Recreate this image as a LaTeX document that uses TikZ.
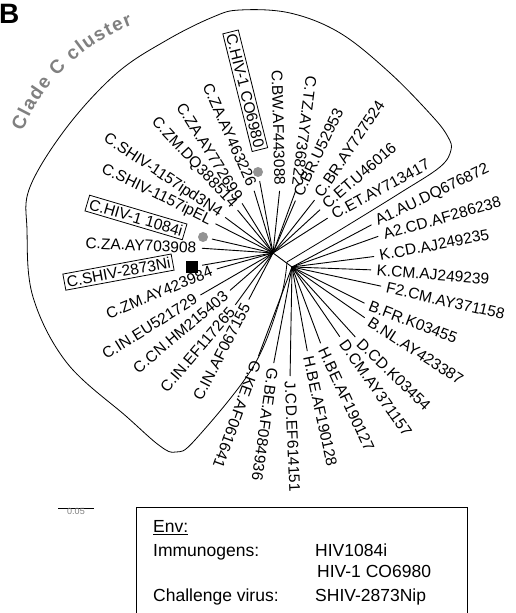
\documentclass[tikz,border=0pt]{standalone}
\usepackage{fontspec}
\setmainfont{Liberation Sans}
\usetikzlibrary{decorations.text}
\newcommand{\leaffont}{\fontsize{15.5}{17}\selectfont}
\newcommand{\keyfont}{\fontsize{17.5}{20}\selectfont}
\tikzset{
  branch/.style={line width=0.9pt,shorten >=4pt},
  leafR/.style={anchor=west,inner sep=1.5pt,font=\leaffont},
  leafL/.style={anchor=east,inner sep=1.5pt,font=\leaffont},
  tagbox/.style={draw,line width=0.8pt,inner sep=2.5pt},
  greydot/.style={circle,fill=gray!85,inner sep=0pt,minimum size=10pt},
  blacksq/.style={rectangle,fill=black,inner sep=0pt,minimum size=12pt},
  keytext/.style={anchor=base west,inner sep=0pt,font=\keyfont},
}

\begin{document}
\begin{tikzpicture}[x=1pt,y=1pt]
\useasboundingbox (0,0) rectangle (515,613);

\node[anchor=base west,inner sep=0pt,font=\fontsize{28}{28}\selectfont\bfseries] (panel) at (-1,589) {B};

\coordinate (h1) at (273,360);
\coordinate (h2) at (292,346);
\coordinate (clc) at (197,411);

% clade C outline
\draw[line width=0.8pt] plot[smooth,tension=0.6] coordinates {(287,351) (340,383) (400,420)
  (440,446) (451,463) (448,476) (433,496) (390,540) (340,580) (290,600) (240,603) (213,596)
  (167,573) (117,540) (67,486) (30,426) (27,383) (33,316) (67,250) (127,196) (160,167)
  (176,161) (195,173) (253,246) (280,313) (287,351)};
\path[decorate,decoration={text along path,text align={fit to path},
  text={|\fontsize{19}{19}\selectfont\bfseries\color{gray}|Clade C cluster}}]
  (clc) ++(158:188) arc[start angle=158,end angle=110,radius=188];

% C leaves
\node[leafR,rotate=28.5] (cet2) at (331,397) {C.ET.AY713417};
\node[leafR,rotate=41] (cet1) at (323,406) {C.ET.U46016};
\node[leafR,rotate=56] (cbr2) at (317,416) {C.BR.AY727524};
\node[leafR,rotate=64.5] (cbr1) at (297,416) {C.BR.U52953};
\node[leafL,rotate=-97.4] (ctz) at (297,426) {C.TZ.AY736822};
\node[leafL,rotate=-88.5] (cbw) at (280,426) {C.BW.AF443088};
\node[leafL,tagbox,rotate=-76] (cco) at (260,463) {C.HIV-1 CO6980};
\node[greydot] (dco) at (258,441) {};
\node[leafL,rotate=-66] (cza1) at (253,426) {C.ZA.AY463226};
\node[leafL,rotate=-58] (cza2) at (240,413) {C.ZA.AY772699};
\node[leafL,rotate=-47] (czm1) at (235,406) {C.ZM.DQ388514};
\node[leafL,rotate=-33.5] (csh1) at (222,398) {C.SHIV-1157ipd3N4};
\node[leafL,rotate=-26] (csh2) at (212,391) {C.SHIV-1157ipEL};
\node[leafL,tagbox,rotate=-16.5] (c1084) at (185,381) {C.HIV-1 1084i};
\node[greydot] (d1084) at (203,376) {};
\node[leafL,rotate=-2.5] (cza3) at (198,365) {C.ZA.AY703908};
\node[leafL,tagbox,rotate=10.5] (c2873) at (173,351) {C.SHIV-2873Ni};
\node[blacksq] (s2873) at (192,346) {};
\node[leafL,rotate=22.6] (czm2) at (213,343) {C.ZM.AY423984};
\node[leafL,rotate=32] (cin1) at (197,316) {C.IN.EU521729};
\node[leafL,rotate=40] (ccn) at (227,320) {C.CN.HM215403};
\node[leafL,rotate=49.6] (cin2) at (233,305) {C.IN.EF117265};
\node[leafL,rotate=62.6] (cin3) at (247,310) {C.IN.AF067155};

% other subtypes
\node[leafR,rotate=25.8] (a1) at (375,390) {A1.AU.DQ676872};
\node[leafR,rotate=15.8] (a2) at (382,378) {A2.CD.AF286238};
\node[leafR,rotate=11] (kcd) at (378,357) {K.CD.AJ249235};
\node[leafR,rotate=-4.7] (kcm) at (375,343) {K.CM.AJ249239};
\node[leafR,rotate=-13] (f2) at (385,326) {F2.CM.AY371158};
\node[leafR,rotate=-21] (bfr) at (368,308) {B.FR.K03455};
\node[leafR,rotate=-33] (bnl) at (368,293) {B.NL.AY423387};
\node[leafR,rotate=-44] (dcd) at (358,273) {D.CD.K03454};
\node[leafR,rotate=-55] (dcm) at (342,273) {D.CM.AY371157};
\node[leafR,rotate=-65] (hbe1) at (322,266) {H.BE.AF190127};
\node[leafR,rotate=-77.7] (hbe2) at (308,258) {H.BE.AF190128};
\node[leafR,rotate=-87.5] (jcd) at (290,233) {J.CD.EF614151};
\node[leafR,rotate=-98] (gbe) at (273,246) {G.BE.AF084936};
\node[leafR,rotate=-110] (gke) at (257,253) {G.KE.AF061641};

\draw[line width=0.9pt] (h1) -- (h2);
\draw[branch] (h1) -- (cet2.west);
\draw[branch] (h1) -- (cet1.west);
\draw[branch] (h1) -- (cbr2.west);
\draw[branch] (h1) -- (cbr1.west);
\draw[branch] (h1) -- (ctz.east);
\draw[branch] (h1) -- (cbw.east);
\draw[branch] (h1) -- (dco);
\draw[branch] (h1) -- (cza1.east);
\draw[branch] (h1) -- (cza2.east);
\draw[branch] (h1) -- (czm1.east);
\draw[branch] (h1) -- (csh1.east);
\draw[branch] (h1) -- (csh2.east);
\draw[branch] (h1) -- (d1084);
\draw[branch] (h1) -- (cza3.east);
\draw[branch] (h1) -- (s2873);
\draw[branch] (h1) -- (czm2.east);
\draw[branch] (h1) -- (cin1.east);
\draw[branch] (h1) -- (ccn.east);
\draw[branch] (h1) -- (cin2.east);
\draw[branch] (h1) -- (cin3.east);
\draw[branch] (h2) -- (a1.west);
\draw[branch] (h2) -- (a2.west);
\draw[branch] (h2) -- (kcd.west);
\draw[branch] (h2) -- (kcm.west);
\draw[branch] (h2) -- (f2.west);
\draw[branch] (h2) -- (bfr.west);
\draw[branch] (h2) -- (bnl.west);
\draw[branch] (h2) -- (dcd.west);
\draw[branch] (h2) -- (dcm.west);
\draw[branch] (h2) -- (hbe1.west);
\draw[branch] (h2) -- (hbe2.west);
\draw[branch] (h2) -- (jcd.west);
\draw[branch] (h2) -- (gbe.west);
\draw[branch] (h2) -- (gke.west);

% scale bar and key
\coordinate (sb0) at (58,105);
\coordinate (sb1) at (94,105);
\draw[line width=0.9pt] (sb0) -- node[below=-1pt,inner sep=1pt,font=\fontsize{9}{9}\selectfont,text=gray] (sblab) {0.05} (sb1);
\draw[line width=0.9pt] (136,-3) |- (467,106) -- (467,-3);
\node[keytext] (env) at (153,80) {\underline{Env:}};
\node[keytext] (imm) at (153,56) {Immunogens:};
\node[keytext] (vac1) at (315,56) {HIV1084i};
\node[keytext] (vac2) at (317,35) {HIV-1 CO6980};
\node[keytext] (chal) at (153,11) {Challenge virus:};
\node[keytext] (chv) at (315,11) {SHIV-2873Nip};
\end{tikzpicture}
\end{document}
